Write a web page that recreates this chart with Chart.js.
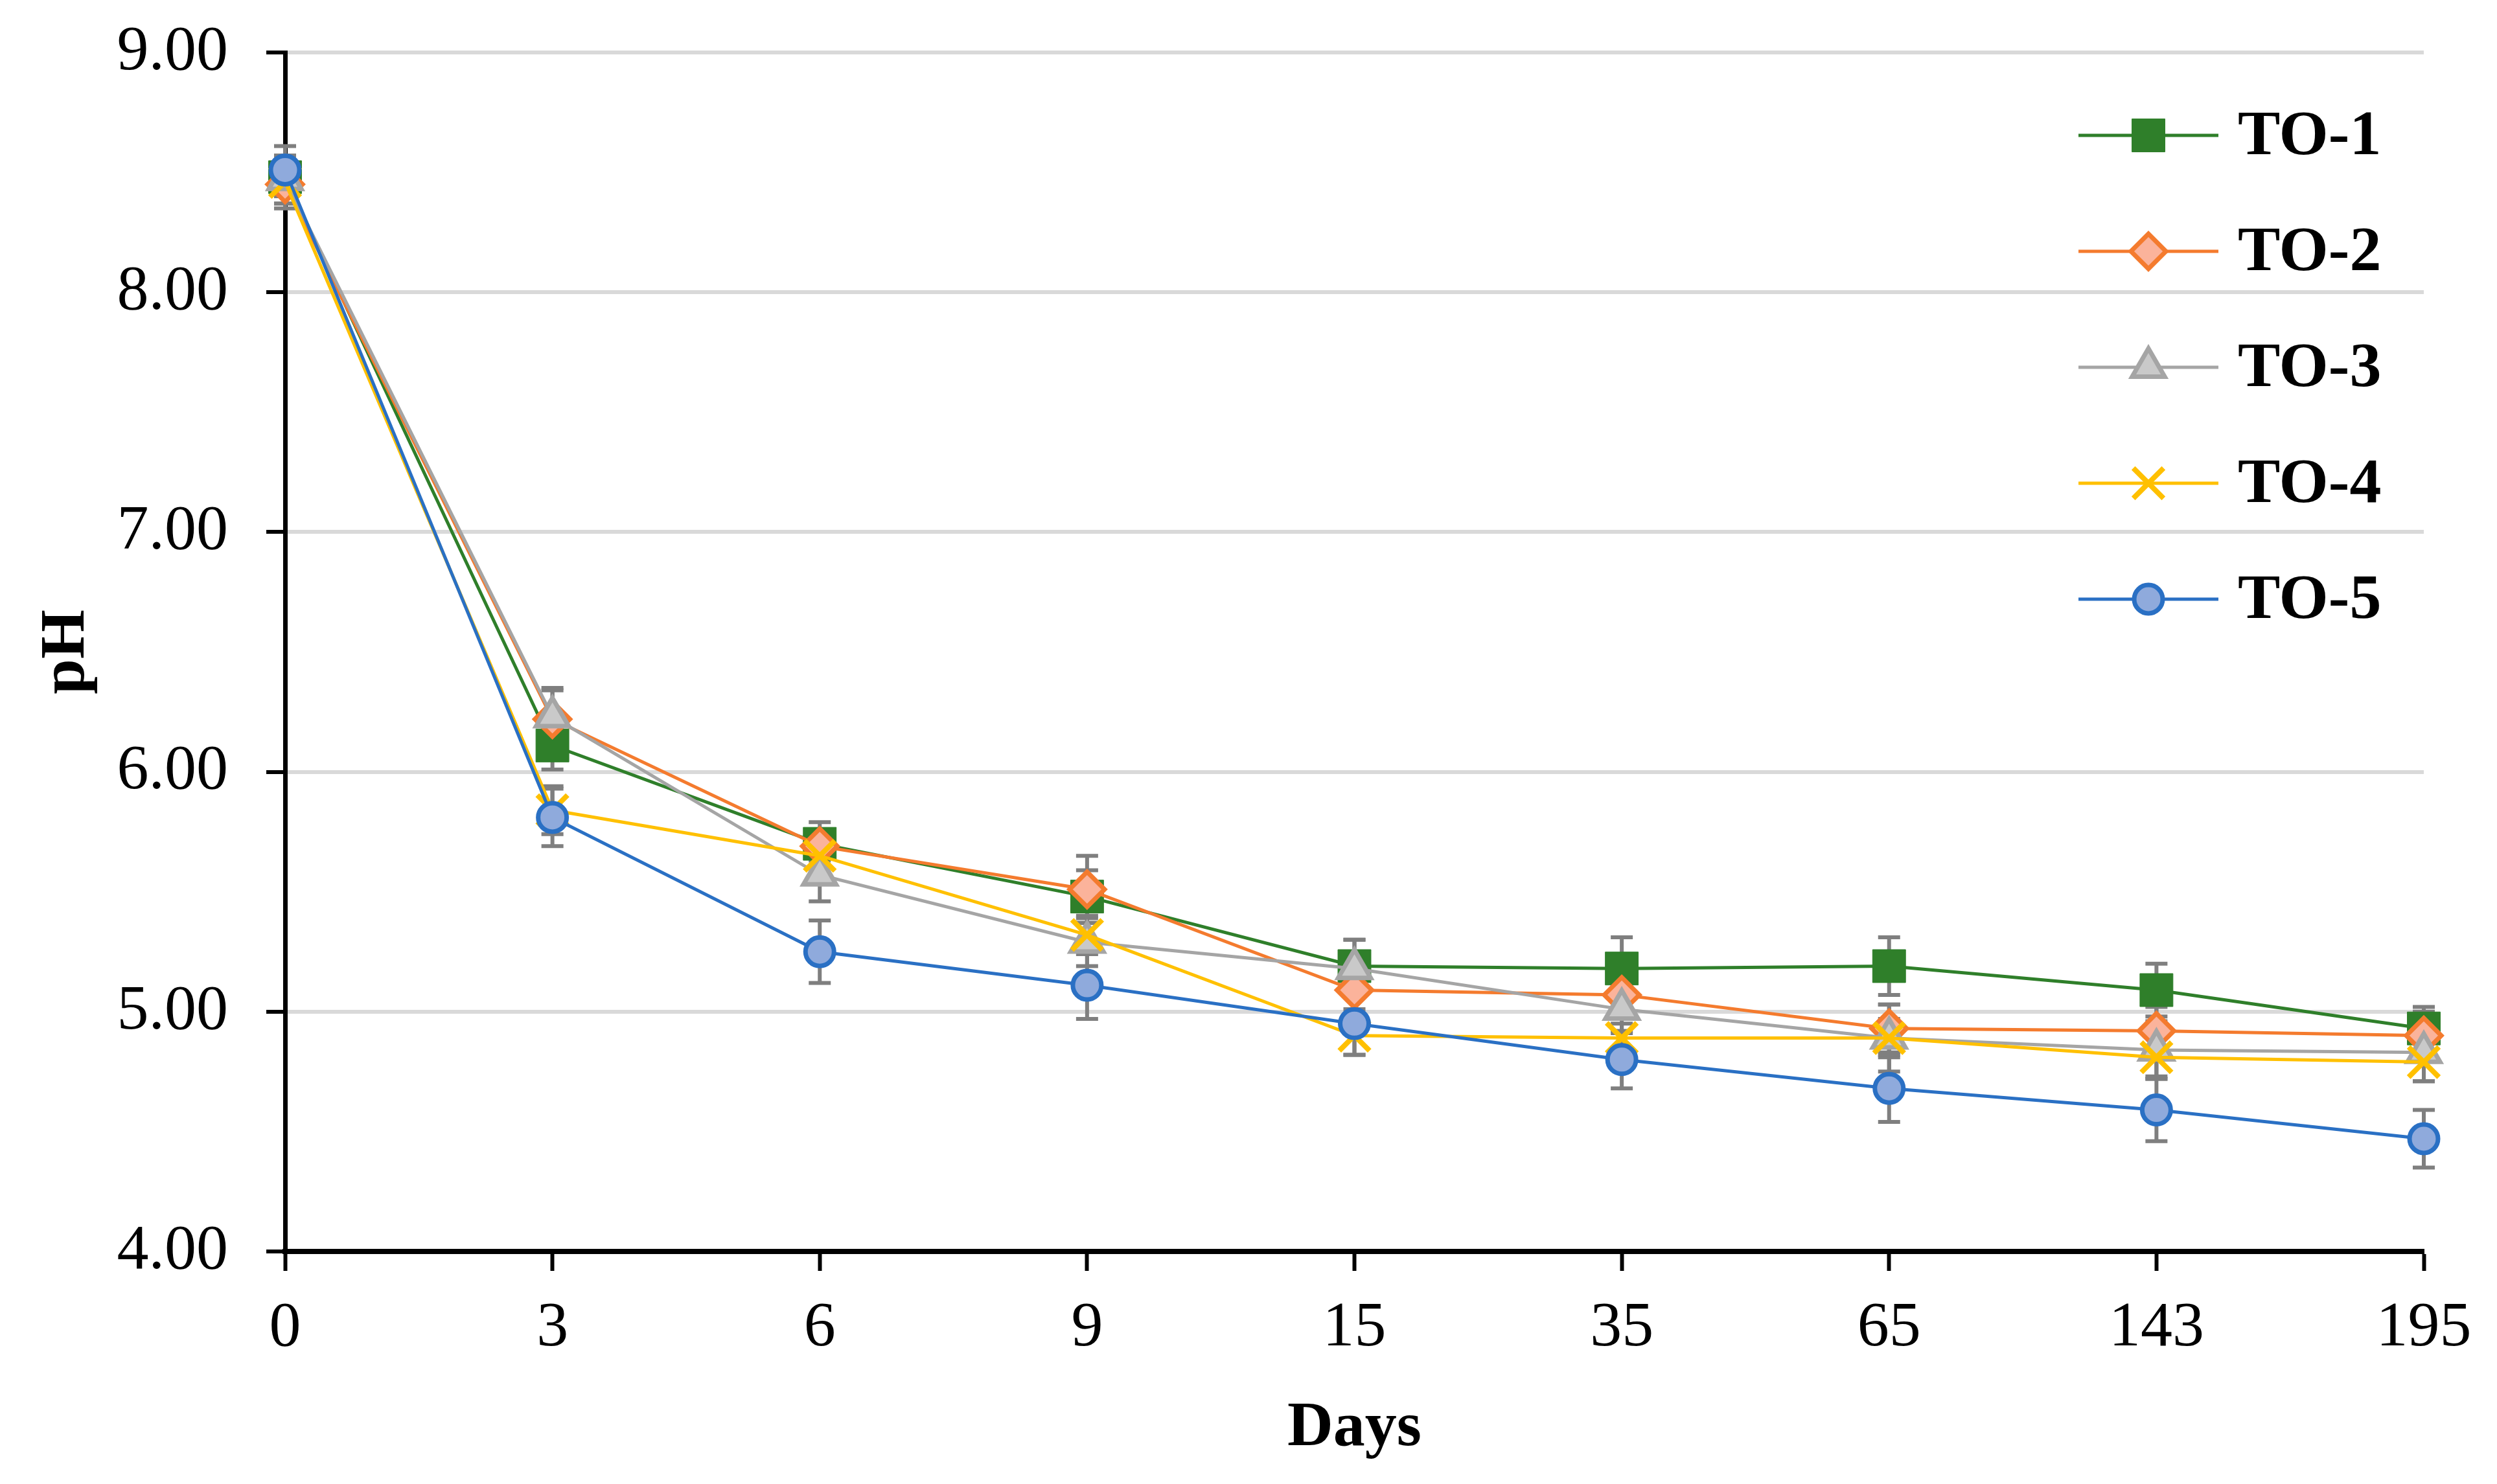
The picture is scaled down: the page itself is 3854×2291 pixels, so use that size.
<!DOCTYPE html>
<html>
<head>
<meta charset="utf-8">
<script src="https://cdn.jsdelivr.net/npm/chart.js@4"></script>
<style>
  html, body { margin: 0; padding: 0; background: #fff; }
  #wrap { width: 3854px; height: 2291px; }
</style>
</head>
<body>
<div id="wrap"><canvas id="chart" width="3854" height="2291"></canvas></div>
<script>
// dias (eixo x) e pH de cada tratamento
const dias = ['0', '3', '6', '9', '15', '35', '65', '143', '195'];
const nomes = ['TO-1', 'TO-2', 'TO-3', 'TO-4', 'TO-5'];
const ph1 = [8.48, 6.11, 5.70, 5.48, 5.19, 5.18, 5.19, 5.09, 4.93];
const ph2 = [8.45, 6.22, 5.69, 5.51, 5.09, 5.07, 4.93, 4.92, 4.90];
const ph3 = [8.47, 6.23, 5.57, 5.29, 5.18, 5.01, 4.89, 4.84, 4.83];
const ph4 = [8.46, 5.84, 5.65, 5.32, 4.90, 4.89, 4.89, 4.81, 4.79];
const ph5 = [8.51, 5.81, 5.25, 5.11, 4.95, 4.80, 4.68, 4.59, 4.47];
// desvio padrao (barras de erro)
const err1 = [0.13, 0.10, 0.09, 0.11, 0.11, 0.13, 0.12, 0.11, 0.09];
const err2 = [0.08, 0.12, 0.06, 0.14, 0.08, 0.10, 0.10, 0.10, 0.10];
const err3 = [0.10, 0.12, 0.11, 0.10, 0.12, 0.10, 0.14, 0.12, 0.12];
const err4 = [0.06, 0.10, 0.07, 0.08, 0.08, 0.06, 0.08, 0.08, 0.08];
const err5 = [0.06, 0.12, 0.13, 0.14, 0.13, 0.12, 0.14, 0.13, 0.12];
const yTicks = [4, 5, 6, 7, 8, 9];

const series = [ph1, ph2, ph3, ph4, ph5];
const erros = [err1, err2, err3, err4, err5];

// estilos de cada serie
const estilos = [
  { line: '#2f7f2a', fill: '#2f7f2a', point: 'rect', radius: 36, bw: 1 },
  { line: '#f47b2e', fill: '#fbb39b', point: 'rectRot', radius: 27, bw: 7 },
  { line: '#a5a5a5', fill: '#c9c9c9', point: 'triangle', radius: 29, bw: 7 },
  { line: '#ffc000', fill: '#ffc000', point: 'crossRot', radius: 33, bw: 8 },
  { line: '#2a70c4', fill: '#8faadc', point: 'circle', radius: 22, bw: 7 },
];

const FONT = '"Liberation Serif", "Times New Roman", serif';

// barras de erro desenhadas pelas escalas do proprio grafico
const errorBars = {
  id: 'errorBars',
  beforeDatasetsDraw(chart) {
    const ctx = chart.ctx;
    const y = chart.scales.y;
    ctx.save();
    ctx.strokeStyle = '#7f7f7f';
    ctx.lineWidth = 6;
    chart.data.datasets.forEach((ds, i) => {
      const meta = chart.getDatasetMeta(i);
      meta.data.forEach((pt, j) => {
        const v = ds.data[j], e = erros[i][j];
        const top = y.getPixelForValue(v + e);
        const bot = y.getPixelForValue(v - e);
        ctx.beginPath();
        ctx.moveTo(pt.x, top); ctx.lineTo(pt.x, bot);
        ctx.moveTo(pt.x - 17, top); ctx.lineTo(pt.x + 17, top);
        ctx.moveTo(pt.x - 17, bot); ctx.lineTo(pt.x + 17, bot);
        ctx.stroke();
      });
    });
    ctx.restore();
  }
};

// legenda dentro da area do grafico
const legenda = {
  id: 'legenda',
  afterDraw(chart) {
    const ctx = chart.ctx;
    ctx.save();
    nomes.forEach((n, i) => {
      const s = estilos[i];
      const yy = 209 + i * 179;
      ctx.strokeStyle = s.line;
      ctx.lineWidth = 5;
      ctx.beginPath();
      ctx.moveTo(3208, yy); ctx.lineTo(3424, yy);
      ctx.stroke();
      ctx.fillStyle = s.fill;
      ctx.strokeStyle = s.line;
      ctx.lineWidth = s.bw;
      Chart.helpers.drawPoint(ctx, { pointStyle: s.point, radius: s.radius, rotation: 0, borderWidth: s.bw }, 3316, yy);
      ctx.fillStyle = '#000';
      ctx.font = 'bold 98px ' + FONT;
      ctx.textBaseline = 'middle';
      ctx.fillText(n, 3454, yy + 4);
    });
    ctx.restore();
  }
};

const datasets = series.map((d, i) => ({
  label: nomes[i],
  data: d,
  borderColor: estilos[i].line,
  backgroundColor: estilos[i].fill,
  borderWidth: 5,
  pointStyle: estilos[i].point,
  pointRadius: estilos[i].radius,
  pointBorderWidth: estilos[i].bw,
  pointBorderColor: estilos[i].line,
  pointBackgroundColor: estilos[i].fill,
  tension: 0,
  order: 5 - i,
}));

new Chart(document.getElementById('chart').getContext('2d'), {
  type: 'line',
  data: { labels: dias, datasets },
  plugins: [errorBars, legenda],
  options: {
    responsive: false,
    animation: false,
    devicePixelRatio: 1,
    layout: { padding: { top: 81, right: 113, left: 0, bottom: 0 } },
    plugins: { legend: { display: false }, tooltip: { enabled: false } },
    scales: {
      x: {
        type: 'category',
        offset: false,
        afterFit: (s) => { s.height = 359; s.paddingLeft = 0; s.paddingRight = 0; },
        grid: { drawOnChartArea: false, drawTicks: true, tickLength: 30, tickWidth: 6, tickColor: '#000' },
        border: { display: true, color: '#000', width: 8 },
        ticks: { color: '#000', font: { family: FONT, size: 98 }, padding: 30, maxRotation: 0, autoSkip: false },
        title: { display: true, text: 'Days', color: '#000', font: { family: FONT, size: 98, weight: 'bold' }, padding: { top: 0, bottom: 27 } },
      },
      y: {
        min: 4,
        max: 9,
        afterFit: (s) => { s.width = 440; s.paddingTop = 0; s.paddingBottom = 0; },
        afterBuildTicks: (s) => { s.ticks = yTicks.map((v) => ({ value: v })); },
        grid: { color: '#d9d9d9', lineWidth: 6, drawTicks: true, tickLength: 29, tickWidth: 6, tickColor: '#000' },
        border: { display: true, color: '#000', width: 7 },
        ticks: { color: '#000', font: { family: FONT, size: 98 }, padding: 59, callback: (v) => Number(v).toFixed(2) },
        title: { display: true, text: 'pH', color: '#000', font: { family: FONT, size: 98, weight: 'bold' }, padding: { top: 45, bottom: 0 } },
      },
    },
  },
});
</script>
</body>
</html>
